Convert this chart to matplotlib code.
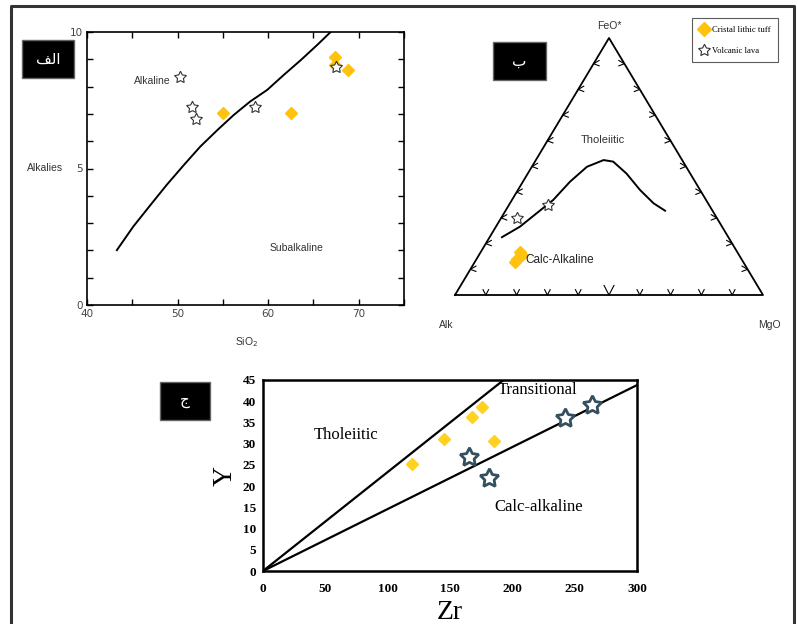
import matplotlib.pyplot as plt
from matplotlib.lines import Line2D
from matplotlib.patches import Rectangle

# ---- panel labels (Arabic, written in presentation forms so they show joined)
label_a = "\uFED2\uFEDF\uFE8D"   # الف
label_b = "\u0628"               # ب
label_c = "\u062C"               # ج

# ---- panel 1: TAS (alkalies vs SiO2)
tas_curve_sio2 = [43.3, 45.1, 47.0, 48.8, 50.7, 52.5, 54.4, 56.2, 58.0, 59.9, 61.7, 63.6, 65.4, 66.9]
tas_curve_alk = [2.01, 2.87, 3.66, 4.40, 5.13, 5.80, 6.41, 6.96, 7.45, 7.88, 8.42, 8.97, 9.52, 10.0]
tuff_sio2 = [55.0, 62.5, 67.4, 68.8, 67.4]
tuff_alk = [7.05, 7.05, 9.1, 8.6, 8.8]
lava_sio2 = [50.3, 51.6, 52.0, 58.5, 67.5]
lava_alk = [8.35, 7.25, 6.8, 7.25, 8.7]

# ---- panel 2: AFM ternary (percent FeO*, percent MgO)
afm_curve_f = [22.5, 26.6, 31.8, 37.0, 44.1, 49.9, 52.5, 51.9, 47.3, 40.9, 35.7, 32.8]
afm_curve_m = [4.0, 7.8, 10.6, 13.4, 15.3, 17.9, 22.0, 25.4, 32.0, 39.6, 46.6, 51.8]
afm_tuff_f = [16.8, 14.2, 13.0, 15.6]
afm_tuff_m = [12.7, 12.9, 13.0, 13.8]
afm_lava_f = [29.8, 35.0]
afm_lava_m = [5.3, 12.8]

# ---- panel 3: Y vs Zr
thol_zr = [0, 193]
thol_y = [0, 45]
calc_zr = [0, 300]
calc_y = [0, 43.8]
zr_tuff = [119.5, 144.9, 167.7, 175.7, 185.0]
y_tuff = [25.2, 31.1, 36.2, 38.7, 30.7]
zr_lava = [165, 181, 242.5, 264]
y_lava = [26.9, 21.8, 36.0, 39.1]

W, H = 798, 624
fig = plt.figure(figsize=(W / 100, H / 100), dpi=100)
fig.patch.set_facecolor("white")

gold = "#FFC20E"
star = (5, 1, 0)
sans = "Liberation Sans"
serif = "Liberation Serif"


def fbox(px, py, pw, ph):
    """pixel box (top-left origin) -> figure fraction rect"""
    return [px / W, 1 - (py + ph) / H, pw / W, ph / H]


def label_box(px, py, pw, ph, txt):
    fig.patches.append(Rectangle((px / W, 1 - (py + ph) / H), pw / W, ph / H,
                                 transform=fig.transFigure, facecolor="black",
                                 edgecolor="#666666", lw=1))
    fig.text((px + pw / 2) / W, 1 - (py + ph / 2) / H, txt, color="white",
             fontsize=11, ha="center", va="center", family="DejaVu Sans")


# outer frame (left, top, right)
fig.add_artist(Line2D([11 / W, 11 / W, 794 / W, 794 / W],
                      [0, 1 - 6 / H, 1 - 6 / H, 0],
                      transform=fig.transFigure, color="#333333", lw=2.2))

# ---------------- panel 1
ax1 = fig.add_axes(fbox(87, 32, 317, 273))
ax1.plot(tas_curve_sio2, tas_curve_alk, color="black", lw=1.4)
ax1.plot(tuff_sio2, tuff_alk, "D", color=gold, ms=6.5, mec=gold, ls="none")
ax1.plot(lava_sio2, lava_alk, marker=star, ms=9, mfc="white", mec="#333333",
         mew=0.8, ls="none")
ax1.set_xlim(40, 75)
ax1.set_ylim(0, 10)
ax1.set_xticks([40, 45, 50, 55, 60, 65, 70, 75])
ax1.set_xticklabels(["40", "", "50", "", "60", "", "70", ""])
ax1.set_yticks(range(11))
ax1.set_yticklabels(["0", "", "", "", "", "5", "", "", "", "", "10"])
ax1.tick_params(direction="in", top=True, right=True, length=4, width=1,
                labelsize=7.5, labelcolor="#444444", pad=3)
for s in ax1.spines.values():
    s.set_linewidth(1.2)
ax1.text(47.2, 8.2, "Alkaline", fontsize=7.5, family=sans, color="#333333",
         ha="center", va="center")
ax1.text(63.1, 2.1, "Subalkaline", fontsize=7.5, family=sans, color="#333333",
         ha="center", va="center")
fig.text(45 / W, 1 - 168 / H, "Alkalies", fontsize=7.5, family=sans,
         color="#333333", ha="center", va="center")
fig.text(247 / W, 1 - 342 / H, "SiO$_2$", fontsize=7.5, family=sans,
         color="#333333", ha="center", va="center")
label_box(22, 40, 52, 38, label_a)

# ---------------- panel 2
h = 0.866
ax2 = fig.add_axes(fbox(455, 38, 308, 257))
ax2.set_xlim(0, 1)
ax2.set_ylim(0, h)
ax2.axis("off")


def tern(f, m):
    f = [v / 100 for v in f]
    m = [v / 100 for v in m]
    return [mm + ff / 2 for ff, mm in zip(f, m)], [ff * h for ff in f]


ax2.plot([0, 1, 0.5, 0], [0, 0, h, 0], color="black", lw=1.3, clip_on=False)
# edge ticks every 10 %
tl = 0.018
for i in range(1, 10):
    t = i / 10
    big = 1.8 if i == 5 else 1
    ax2.plot([t - tl * 0.5 * big, t, t + tl * 0.5 * big],
             [tl * big, 0, tl * big], color="black", lw=0.8, clip_on=False)
    lx, ly = t / 2, t * h
    ax2.plot([lx + tl, lx, lx + tl], [ly + tl * 0.6, ly, ly - tl * 0.4],
             color="black", lw=0.8, clip_on=False)
    rx, ry = 1 - t / 2, t * h
    ax2.plot([rx - tl, rx, rx - tl], [ry + tl * 0.6, ry, ry - tl * 0.4],
             color="black", lw=0.8, clip_on=False)
cx, cy = tern(afm_curve_f, afm_curve_m)
ax2.plot(cx, cy, color="black", lw=1.4)
tx, ty = tern(afm_tuff_f, afm_tuff_m)
ax2.plot(tx, ty, "D", color=gold, mec=gold, ms=6.5, ls="none")
sx, sy = tern(afm_lava_f, afm_lava_m)
ax2.plot(sx, sy, marker=star, ms=9, mfc="white", mec="#333333", mew=0.8, ls="none")
ax2.text(0.48, 0.522, "Tholeiitic", fontsize=8, family=sans, color="#333333",
         ha="center", va="center")
ax2.text(0.23, 0.118, "Calc-Alkaline", fontsize=8.5, family=sans, color="#222222",
         ha="left", va="center")
ax2.text(0.5, 0.905, "FeO*", fontsize=7.5, family=sans, color="#333333",
         ha="center", va="center", clip_on=False)
ax2.text(-0.03, -0.10, "Alk", fontsize=7.5, family=sans, color="#333333",
         ha="center", va="center", clip_on=False)
ax2.text(1.02, -0.10, "MgO", fontsize=7.5, family=sans, color="#333333",
         ha="center", va="center", clip_on=False)
label_box(493, 42, 53, 38, label_b)

handles = [Line2D([], [], marker="D", color=gold, mec=gold, ms=7, ls="none"),
           Line2D([], [], marker=star, ms=9, mfc="white", mec="#333333", mew=0.8, ls="none")]
leg = fig.legend(handles, ["Cristal lithic tuff", "Volcanic lava"],
                 loc="upper right", bbox_to_anchor=(778 / W, 1 - 18 / H),
                 prop={"family": serif, "size": 6.2}, frameon=True, fancybox=False,
                 edgecolor="#333333", handletextpad=0.4, borderpad=0.9,
                 labelspacing=1.5, handlelength=1.0, borderaxespad=0)
leg.get_frame().set_linewidth(0.8)

# ---------------- panel 3
ax3 = fig.add_axes(fbox(263, 380, 374, 191))
ax3.plot(thol_zr, thol_y, color="black", lw=1.6)
ax3.plot(calc_zr, calc_y, color="black", lw=1.6)
ax3.plot(zr_tuff, y_tuff, "D", color="#FFD21F", mec="#FFD21F", ms=6.5, ls="none")
ax3.plot(zr_lava, y_lava, marker=star, ms=14, mfc="white", mec="#34505F",
         mew=2.0, ls="none")
ax3.set_xlim(0, 300)
ax3.set_ylim(0, 45)
ax3.set_xticks(range(0, 301, 50))
ax3.set_yticks(range(0, 46, 5))
ax3.tick_params(length=0, labelsize=9.5)
ax3.tick_params(axis="x", pad=9)
ax3.tick_params(axis="y", pad=5)
for lab in ax3.get_xticklabels() + ax3.get_yticklabels():
    lab.set_family(serif)
    lab.set_fontweight("bold")
for s in ax3.spines.values():
    s.set_linewidth(1.8)
ax3.text(67, 32, "Tholeiitic", fontsize=12, family=serif, ha="center", va="center")
ax3.text(220, 42.6, "Transitional", fontsize=12, family=serif, ha="center", va="center")
ax3.text(221, 15.1, "Calc-alkaline", fontsize=12, family=serif, ha="center", va="center")
ax3.set_xlabel("Zr", fontsize=20, family=serif, labelpad=3)
ax3.set_ylabel("Y", fontsize=20, family=serif, labelpad=4)
label_box(160, 382, 50, 38, label_c)

fig.savefig("out.png", dpi=100)
